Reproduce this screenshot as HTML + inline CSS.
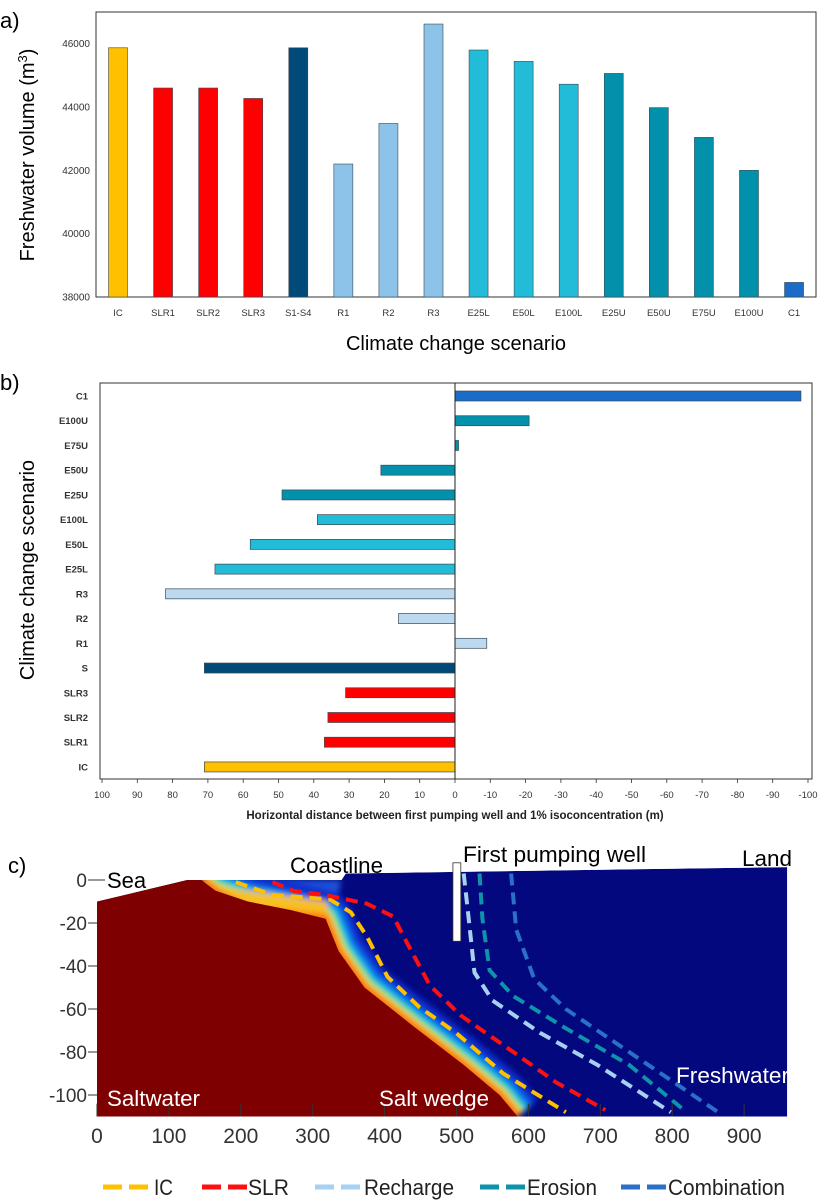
<!DOCTYPE html>
<html><head><meta charset="utf-8"><style>
html,body{margin:0;padding:0;background:#fff;}
svg{display:block;font-family:"Liberation Sans",sans-serif;}
</style></head><body>
<svg id="fig" width="820" height="1200" viewBox="0 0 820 1200" xmlns="http://www.w3.org/2000/svg">
<defs>
<filter id="blur" x="-20%" y="-20%" width="140%" height="140%"><feGaussianBlur stdDeviation="3"/></filter>
<clipPath id="domclip"><polygon id="domclipPoly" points=""/></clipPath>
</defs>
<g id="pa"></g>
<g id="pb"></g>
<g id="pc"></g>
</svg>
<script>
// ---------- Panel A data ----------
const aCategories = ["IC","SLR1","SLR2","SLR3","S1-S4","R1","R2","R3","E25L","E50L","E100L","E25U","E50U","E75U","E100U","C1"];
const aValues = [45870,44600,44600,44270,45870,42200,43480,46620,45800,45440,44720,45060,43980,43040,42000,38460];
const aTicks = [38000,40000,42000,44000,46000];
// ---------- Panel B data ----------
const bCategories = ["C1","E100U","E75U","E50U","E25U","E100L","E50L","E25L","R3","R2","R1","S","SLR3","SLR2","SLR1","IC"];
const bValues = [-98,-21,-1,21,49,39,58,68,82,16,-9,71,31,36,37,71];
const bTicks = [100,90,80,70,60,50,40,30,20,10,0,-10,-20,-30,-40,-50,-60,-70,-80,-90,-100];
// ---------- Panel C data ----------
const cXTicks = [0,100,200,300,400,500,600,700,800,900];
const cYTicks = [0,-20,-40,-60,-80,-100];
const icLine = [[193,-1],[244,-7],[324,-9],[353,-15],[375,-26],[404,-45],[448,-59],[499,-71],[565,-90],[652,-108]];
const slrLine = [[244,-1],[273,-5],[317,-7],[375,-11],[412,-17],[434,-31],[463,-49],[506,-63],[579,-80],[638,-94],[707,-107]];
const rechargeLine = [[510,3],[517,-18],[525,-43],[550,-56],[616,-71],[696,-86],[798,-108]];
const erosionLine = [[532,3],[536,-18],[546,-42],[579,-54],[652,-69],[740,-86],[820,-108]];
const combinationLine = [[576,3],[583,-23],[608,-46],[652,-60],[740,-80],[864,-108]];
const saltEdge = [[145,0],[165,-5],[210,-10],[270,-14],[318,-18],[336,-33],[372,-50],[440,-68],[510,-86],[560,-100],[585,-110]];

const NS="http://www.w3.org/2000/svg";
function mk(tag,parent,attrs,text){const e=document.createElementNS(NS,tag);for(const k in attrs)e.setAttribute(k,attrs[k]);if(text!==undefined)e.textContent=text;parent.appendChild(e);return e;}

function colorA(c){
  if(c==="IC")return "#FFC000";
  if(c.startsWith("SLR"))return "#FF0000";
  if(c.startsWith("S"))return "#004A7A";
  if(c.startsWith("R"))return "#8DC3E8";
  if(c.startsWith("C"))return "#1B6CC9";
  if(c.endsWith("L"))return "#22BCD8";
  return "#0390AA";
}
function colorB(c){
  if(c.startsWith("R"))return "#BDD9F0";
  return colorA(c);
}

// ---------- Panel A ----------
const pa=document.getElementById('pa');
const aL=96,aR=816,aT=12,aB=297,aMin=38000,aMax=47000;
const ay=v=>aB-(v-aMin)/(aMax-aMin)*(aB-aT);
const ax=i=>118+i*45.07;
let t=mk('text',pa,{x:0,y:28,'font-size':22},'a)');


let r=mk('rect',pa,{x:aL,y:aT,width:aR-aL,height:aB-aT,fill:'none',stroke:'#333','stroke-width':1});


aTicks.forEach(v=>{
  const e=mk('text',pa,{x:aL-6,y:ay(v)+3.5,'font-size':10,'text-anchor':'end',fill:'#333'},String(v));
  
  
});
aCategories.forEach((c,i)=>{
  const b=mk('rect',pa,{x:ax(i)-9.5,y:ay(aValues[i]),width:19,height:aB-ay(aValues[i]),fill:colorA(c),stroke:'#3a4a55','stroke-width':0.6});
  
  
  const l=mk('text',pa,{x:ax(i),y:316,'font-size':9.5,'text-anchor':'middle',fill:'#333'},c);
  
  
});
t=mk('text',pa,{x:456,y:350,'font-size':20,'text-anchor':'middle'},'Climate change scenario');


t=mk('text',pa,{x:0,y:0,'font-size':20,'text-anchor':'middle',transform:'translate(34,155) rotate(-90)'});


t.innerHTML='Freshwater volume (m<tspan dy="-7" font-size="13">3</tspan><tspan dy="7">)</tspan>';

// ---------- Panel B ----------
const pb=document.getElementById('pb');
const bL=100,bR=812,bT=383,bB=779;
const bx=v=>455+(-v)*3.53;
const by=i=>396+i*24.73;
t=mk('text',pb,{x:0,y:390,'font-size':22},'b)');


r=mk('rect',pb,{x:bL,y:bT,width:bR-bL,height:bB-bT,fill:'none',stroke:'#333','stroke-width':1});


bTicks.forEach(v=>{
  mk('line',pb,{x1:bx(v),x2:bx(v),y1:bB,y2:bB+4,stroke:'#333','stroke-width':0.8});
  const e=mk('text',pb,{x:bx(v),y:798,'font-size':9.5,'text-anchor':'middle',fill:'#333'},String(v));
  
  
});
bCategories.forEach((c,i)=>{
  const x0=bx(0),x1=bx(bValues[i]);
  const b=mk('rect',pb,{x:Math.min(x0,x1),y:by(i)-5,width:Math.max(1.5,Math.abs(x1-x0)),height:10,fill:colorB(c),stroke:'#3a4a55','stroke-width':0.7});
  
  
  const l=mk('text',pb,{x:88,y:by(i)+3.5,'font-size':9.5,'font-weight':'bold','text-anchor':'end',fill:'#333'},c);
  
  
});
mk('line',pb,{x1:bx(0),x2:bx(0),y1:bT,y2:bB,stroke:'#222','stroke-width':1});
t=mk('text',pb,{x:455,y:819,'font-size':11.5,'font-weight':'bold','text-anchor':'middle',fill:'#222'},'Horizontal distance between first pumping well and 1% isoconcentration (m)');


t=mk('text',pb,{x:0,y:0,'font-size':20,'text-anchor':'middle',transform:'translate(34,570) rotate(-90)'},'Climate change scenario');



// ---------- Panel C ----------
const pc=document.getElementById('pc');
const cx=m=>97+0.719*m;
const cy=m=>880-2.15*m;
const pts=a=>a.map(p=>cx(p[0]).toFixed(1)+','+cy(p[1]).toFixed(1)).join(' ');
const domain=[[0,-10],[125,0],[340,0],[346,3],[960,6],[960,-110],[0,-110]];
document.getElementById('domclipPoly').setAttribute('points',pts(domain));
t=mk('text',pc,{x:8,y:873,'font-size':22},'c)');


const dg=mk('g',pc,{'clip-path':'url(#domclip)'});


mk('polygon',dg,{points:pts(domain),fill:'#03087E'});
mk('polygon',dg,{points:pts([[150,0],[340,0],[335,-8],[150,-8]]),fill:'#1a4fd8',filter:'url(#blur)'});
const band=mk('g',dg,{filter:'url(#blur)'});
[['#0a2cc8',54],['#0a6cf0',38],['#12c0e0',28],['#40e090',21],['#f0e030',15],['#ff7010',9]].forEach(s=>{
  mk('polyline',band,{points:pts(saltEdge),fill:'none',stroke:s[0],'stroke-width':s[1],'stroke-linejoin':'round'});
});
mk('polygon',band,{points:pts([[165,-3],[320,-10],[322,-16],[210,-12]]),fill:'#f8c020'});
const redPoly=[[0,-10],[125,0]].concat(saltEdge).concat([[0,-110]]);
const rp=mk('polygon',dg,{points:pts(redPoly),fill:'#7F0000'});


const lines=[['ic',icLine,'#FFC000'],['slr',slrLine,'#FF1010'],['recharge',rechargeLine,'#A6D1F2'],['erosion',erosionLine,'#0E93AA'],['combination',combinationLine,'#2A70C6']];
lines.forEach(L=>{
  const p=mk('polyline',pc,{points:pts(L[1]),fill:'none',stroke:L[2],'stroke-width':4,'stroke-dasharray':'12 7','stroke-linejoin':'round'});
  
  
});
const well=mk('rect',pc,{x:cx(495),y:cy(8),width:cx(506)-cx(495),height:cy(-28.5)-cy(8),fill:'#fff',stroke:'#333','stroke-width':0.8});


cYTicks.forEach(v=>{
  mk('line',pc,{x1:88,x2:97,y1:cy(v),y2:cy(v),stroke:'#333','stroke-width':1});
  const e=mk('text',pc,{x:87,y:cy(v)+7,'font-size':19,'text-anchor':'end',fill:'#333'},String(v));
  
  
});
mk('line',pc,{x1:97,x2:105,y1:cy(0),y2:cy(0),stroke:'#333','stroke-width':1});
cXTicks.forEach(v=>{
  mk('line',pc,{x1:cx(v),x2:cx(v),y1:cy(-110),y2:cy(-104),stroke:'#333','stroke-width':1});
  const e=mk('text',pc,{x:cx(v),y:1143,'font-size':21,'text-anchor':'middle',fill:'#333'},String(v));
  
  
});
const labs=[['sea-label','Sea',107,888,'#000',null],['coastline-label','Coastline',290,873,'#000',93],['well-label','First pumping well',463,862,'#000',183],['land-label','Land',742,866,'#000',50],['freshwater-label','Freshwater',676,1083,'#fff',113],['saltwater-label','Saltwater',107,1106,'#fff',93],['salt-wedge-label','Salt wedge',379,1106,'#fff',110]];
labs.forEach(L=>{
  const a={x:L[2],y:L[3],'font-size':22,fill:L[4]};
  if(L[5]){a.textLength=L[5];a.lengthAdjust='spacingAndGlyphs';}
  const e=mk('text',pc,a,L[1]);
  
  
});
// legend
const leg=[['IC','#FFC000',103,153,19],['SLR','#FF1010',202,247,41],['Recharge','#A6D1F2',315,363,90],['Erosion','#0E93AA',480,526,70],['Combination','#2A70C6',621,667,117]];
leg.forEach(L=>{
  const g=mk('g',pc,{});
  
  
  mk('line',g,{x1:L[2],x2:L[3],y1:1187,y2:1187,stroke:L[1],'stroke-width':5,'stroke-dasharray':'19 7'});
  mk('text',g,{x:L[3]+1,y:1195,'font-size':22,fill:'#222',textLength:L[4],lengthAdjust:'spacingAndGlyphs'},L[0]);
});
</script>
</body></html>
